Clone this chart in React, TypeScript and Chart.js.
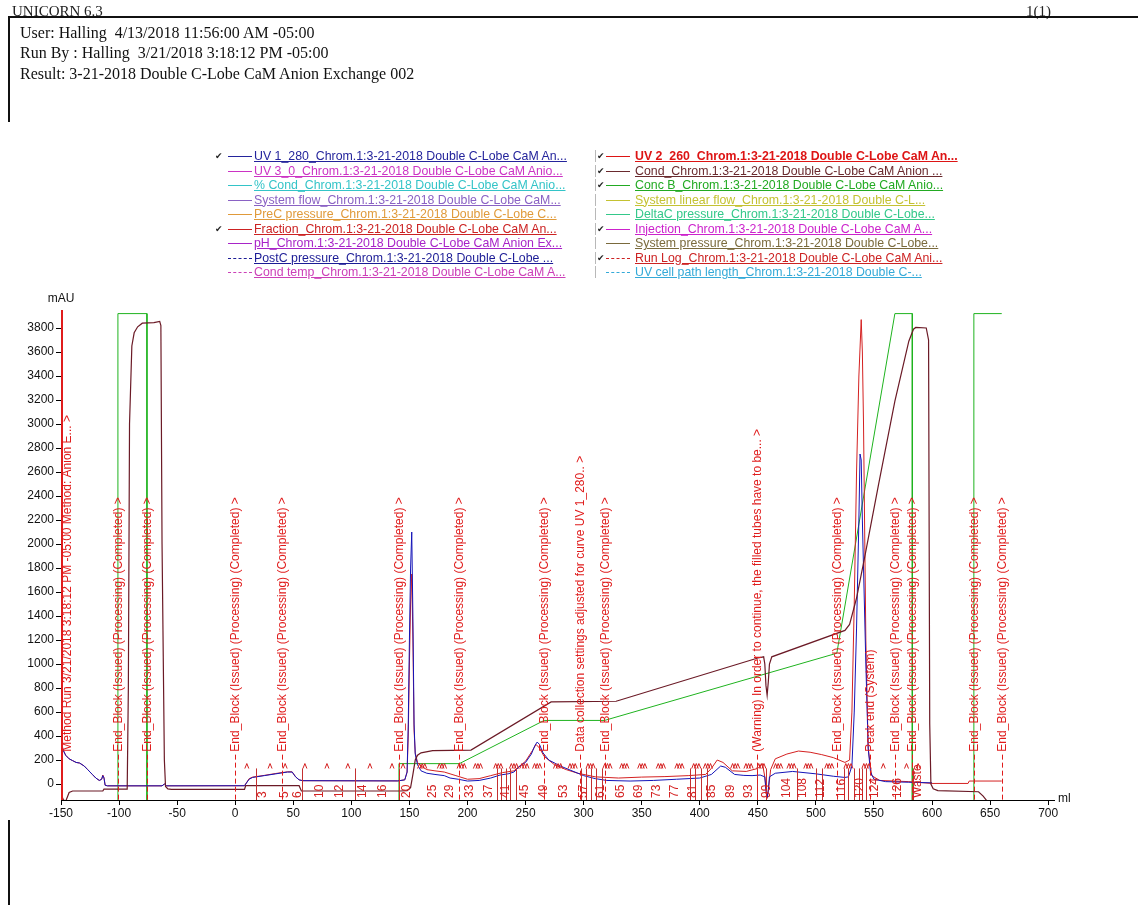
import React, { useEffect, useRef } from 'react';
import { Chart, registerables } from 'chart.js';

Chart.register(...registerables);

type Pt = [number, number];

// ---- Curves: [volume (ml), value (mAU scale)] ----
const uv1Trace: Pt[] = [
  [-150, 420], [-149.5, 250], [-149, 320], [-148, 280], [-146, 240], [-143, 210], [-140, 195], [-137, 180],
  [-134, 175], [-130, 150], [-127, 120], [-123, 80], [-120, 50], [-117, 30], [-115, 40], [-114, 70],
  [-113, 50], [-112, -10], [-110, -15], [-63, -15], [-61, 0], [-59, -15], [8, -14], [12, 40], [15, 55],
  [25, 70], [35, 85], [45, 100], [49, 100], [52, 60], [55, 35], [58, 28], [140, 26], [146, 35], [148, 100],
  [149, 500], [150, 1200], [151, 1800], [152, 2100], [153, 1400], [154, 500], [155, 250], [157, 160],
  [160, 110], [165, 90], [172, 80], [180, 70], [185, 50], [192, 40], [200, 25], [210, 30], [220, 50],
  [228, 75], [235, 85], [240, 100], [245, 150], [250, 180], [255, 250], [258, 320], [260, 350], [262, 330],
  [265, 260], [270, 200], [280, 150], [290, 110], [300, 70], [310, 45], [320, 30], [340, 25], [360, 30],
  [380, 40], [400, 50], [410, 80], [418, 150], [422, 140], [430, 80], [438, 72], [445, 70], [452, 75],
  [456, 60], [457, -60], [458, -110], [459, -50], [460, 60], [465, 90], [480, 105], [500, 85], [515, 65],
  [525, 55], [528, 60], [531, 150], [533, 600], [535, 1300], [537, 2200], [538, 2750], [539, 2700],
  [540, 2200], [541, 1800], [543, 1000], [545, 300], [547, 100], [550, 40], [560, 20], [580, 15], [600, 10]
];

const uv2Trace: Pt[] = [
  [-150, 350], [-149.5, 200], [-149, 300], [-148, 280], [-146, 240], [-143, 210], [-140, 195], [-137, 180],
  [-134, 175], [-130, 150], [-127, 120], [-123, 80], [-120, 50], [-117, 30], [-115, 40], [-114, 75],
  [-113, 55], [-112, -10], [-110, -15], [-63, -15], [-61, 0], [-59, -15], [8, -14], [12, 45], [15, 58],
  [25, 72], [35, 88], [45, 102], [49, 102], [52, 60], [55, 35], [58, 28], [140, 26], [146, 35], [148, 100],
  [149, 400], [150, 1000], [151, 1500], [152, 1750], [153, 1200], [154, 450], [155, 260], [157, 180],
  [160, 150], [165, 120], [172, 110], [180, 100], [190, 70], [200, 40], [210, 45], [220, 70], [230, 95],
  [240, 110], [250, 190], [256, 280], [259, 330], [262, 300], [266, 230], [275, 160], [285, 120], [295, 90],
  [310, 60], [330, 50], [350, 58], [370, 62], [390, 70], [405, 80], [410, 130], [415, 200], [420, 180],
  [428, 110], [440, 105], [450, 130], [454, 170], [456, 60], [458, -120], [459, -60], [461, 120], [465, 210],
  [475, 250], [485, 275], [495, 265], [505, 245], [515, 220], [525, 180], [529, 200], [531, 600], [533, 1500],
  [535, 2600], [537, 3400], [539, 3870], [540, 3600], [541, 3000], [543, 1200], [545, 300], [548, 70],
  [555, 30], [580, 20], [600, 5], [631, 5], [632, 25], [660, 25]
];

const condTrace: Pt[] = [
  [-150, -80], [-148, -130], [-146, -145], [-143, -70], [-140, -58], [-114, -58], [-113, -42], [-93, -42],
  [-92, 800], [-91, 3000], [-89, 3650], [-87, 3760], [-84, 3810], [-80, 3840], [-70, 3845], [-65, 3855],
  [-64, 3820], [-63, 2000], [-61, 200], [-60, -20], [-58, -40], [-55, -45], [8, -45], [9, -14], [55, -14],
  [57, -58], [142, -58], [148, -55], [151, -30], [153, 80], [155, 200], [157, 240], [160, 260], [170, 278],
  [203, 283], [272, 684], [328, 690], [450, 1050], [455, 1060], [456, 1000], [457, 820], [458, 740],
  [459, 850], [460, 1000], [462, 1060], [525, 1280], [529, 1330], [535, 1550], [542, 1890], [554, 2500],
  [568, 3190], [580, 3690], [584, 3790], [586, 3805], [595, 3800], [597, 3700], [598, 500], [599, 0],
  [601, -40], [605, -55], [640, -64], [644, -100], [648, -150]
];

const concBTrace: Pt[] = [
  [-150, -300], [-101, -300], [-101, 3920], [-76, 3920], [-76, -300], [141, -300], [141, 170], [193, 170],
  [266, 530], [318, 530], [518, 1090], [568, 3920], [583, 3920], [583, -300], [636, -300], [636, 3920],
  [660, 3920]
];

// ---- Run log events ----
const END_BLOCK = 'End_Block (Issued) (Processing) (Completed) >';
const runLogMl = [-150, -101, -76, 0, 40.5, 141, 193, 266, 297, 318, 449, 518.5, 547, 568.5, 583, 636, 660];
const runLogText = [
  'Method Run 3/21/2018 3:18:12 PM -05:00 Method: Anion E... >',
  END_BLOCK, END_BLOCK, END_BLOCK, END_BLOCK, END_BLOCK, END_BLOCK, END_BLOCK,
  'Data collection settings adjusted for curve UV 1_280.. >',
  END_BLOCK,
  '(Warning) In order to continue, the filled tubes have to be... >',
  END_BLOCK,
  'Peak end (System)',
  END_BLOCK, END_BLOCK, END_BLOCK, END_BLOCK
];

// ---- Fractions ----
const fractionLineMl = [18, 57.5, 103, 141, 225, 229, 233, 237, 242, 298, 302, 306, 311, 316, 392, 396, 401, 406,
  449, 457, 484, 500, 505, 524, 528, 533, 537, 540, 543, 584];
const fractionLabelMl = [24, 43, 54, 73, 90, 110, 127, 148, 170, 185, 201.5, 218, 233, 249, 266, 282.5, 300, 315,
  331.5, 347, 362.5, 378, 393.5, 410, 427, 442, 458, 474.5, 489, 504.5, 522, 537.5, 551, 570, 588];
const fractionLabels = ['3', '5', '6', '10', '12', '14', '16', '20', '25', '29', '33', '37', '41', '45', '49', '53',
  '57', '61', '65', '69', '73', '77', '81', '85', '89', '93', '99', '104', '108', '112', '116', '120', '124', '126', 'Waste'];

// ---- Caret marks (groups) ----
const caretGroupMl = [10, 30, 43, 60, 79, 97, 116, 135, 144.5, 161, 178, 195, 209, 226.5, 240, 249, 260, 278,
  290.5, 306, 320.5, 335, 350.5, 366.5, 382.5, 397, 407, 430.5, 442, 453, 467.5, 479, 493.5, 511.5, 528, 543.5,
  558, 578, 588];
const caretGroupSize = [1, 1, 1, 1, 1, 1, 1, 1, 1, 3, 3, 3, 3, 3, 3, 3, 3, 3, 3, 3, 3, 3, 3, 3, 3, 3, 3, 3, 3, 3,
  3, 3, 3, 3, 3, 3, 1, 1, 1];

// ---- Axes ----
const X_MIN = -150, X_MAX = 705, X_STEP = 50;
const Y_MIN = -133, Y_MAX = 3950, Y_STEP = 200;
const RUNLOG_TEXT_BASE = 270;
const FRACTION_TOP = 130;
const CARET_LEVEL = 150;

// ---- Legend ----
const legendLeft = [
  { text: 'UV 1_280_Chrom.1:3-21-2018 Double C-Lobe CaM An...', color: '#24249c', checked: true, dashed: false },
  { text: 'UV 3_0_Chrom.1:3-21-2018 Double C-Lobe CaM Anio...', color: '#cc33c4', checked: false, dashed: false },
  { text: '% Cond_Chrom.1:3-21-2018 Double C-Lobe CaM Anio...', color: '#33c4c8', checked: false, dashed: false },
  { text: 'System flow_Chrom.1:3-21-2018 Double C-Lobe CaM...', color: '#8a62c4', checked: false, dashed: false },
  { text: 'PreC pressure_Chrom.1:3-21-2018 Double C-Lobe C...', color: '#e09a3a', checked: false, dashed: false },
  { text: 'Fraction_Chrom.1:3-21-2018 Double C-Lobe CaM An...', color: '#cc2222', checked: true, dashed: false },
  { text: 'pH_Chrom.1:3-21-2018 Double C-Lobe CaM Anion Ex...', color: '#a824c8', checked: false, dashed: false },
  { text: 'PostC pressure_Chrom.1:3-21-2018 Double C-Lobe ...', color: '#1c1c96', checked: false, dashed: true },
  { text: 'Cond temp_Chrom.1:3-21-2018 Double C-Lobe CaM A...', color: '#cc40b8', checked: false, dashed: true },
];
const legendRight = [
  { text: 'UV 2_260_Chrom.1:3-21-2018 Double C-Lobe CaM An...', color: '#dd1414', checked: true, dashed: false, bold: true },
  { text: 'Cond_Chrom.1:3-21-2018 Double C-Lobe CaM Anion ...', color: '#6a2a2e', checked: true, dashed: false },
  { text: 'Conc B_Chrom.1:3-21-2018 Double C-Lobe CaM Anio...', color: '#22aa22', checked: true, dashed: false },
  { text: 'System linear flow_Chrom.1:3-21-2018 Double C-L...', color: '#c4c232', checked: false, dashed: false },
  { text: 'DeltaC pressure_Chrom.1:3-21-2018 Double C-Lobe...', color: '#34c88a', checked: false, dashed: false },
  { text: 'Injection_Chrom.1:3-21-2018 Double C-Lobe CaM A...', color: '#cc22cc', checked: true, dashed: false },
  { text: 'System pressure_Chrom.1:3-21-2018 Double C-Lobe...', color: '#7a6a3c', checked: false, dashed: false },
  { text: 'Run Log_Chrom.1:3-21-2018 Double C-Lobe CaM Ani...', color: '#cc2222', checked: true, dashed: true },
  { text: 'UV cell path length_Chrom.1:3-21-2018 Double C-...', color: '#34aad8', checked: false, dashed: true },
];

const SANS = '"Liberation Sans", Arial, Helvetica, sans-serif';
const SERIF = '"Liberation Serif", "Times New Roman", Times, serif';
const RED = '#e01c1c';

const toXY = (pts: Pt[]) => pts.map(([x, y]) => ({ x, y }));

const marksPlugin = {
  id: 'unicornMarks',
  afterDatasetsDraw(chart: any) {
    const { ctx, chartArea, scales } = chart;
    const xs = scales.x, ys = scales.y;
    ctx.save();
    ctx.beginPath();
    ctx.rect(chartArea.left, chartArea.top - 2, chartArea.right - chartArea.left, chartArea.bottom - chartArea.top + 2);
    ctx.clip();

    // fraction lines
    ctx.strokeStyle = '#c43030';
    ctx.lineWidth = 1;
    const fTop = ys.getPixelForValue(FRACTION_TOP);
    for (const ml of fractionLineMl) {
      const px = Math.round(xs.getPixelForValue(ml)) + 0.5;
      ctx.beginPath();
      ctx.moveTo(px, chartArea.bottom);
      ctx.lineTo(px, fTop);
      ctx.stroke();
    }
    // fraction labels
    ctx.fillStyle = '#d42020';
    ctx.font = `12px ${SANS}`;
    ctx.textAlign = 'left';
    ctx.textBaseline = 'middle';
    fractionLabelMl.forEach((ml, i) => {
      ctx.save();
      ctx.translate(xs.getPixelForValue(ml), chartArea.bottom - 2);
      ctx.rotate(-Math.PI / 2);
      ctx.fillText(fractionLabels[i], 0, 0);
      ctx.restore();
    });
    // carets
    ctx.strokeStyle = '#d42020';
    const cy = ys.getPixelForValue(CARET_LEVEL);
    caretGroupMl.forEach((ml, i) => {
      const n = caretGroupSize[i];
      const cx = xs.getPixelForValue(ml);
      ctx.beginPath();
      for (let k = 0; k < n; k++) {
        const x0 = cx + (k - (n - 1) / 2) * 2.6;
        ctx.moveTo(x0 - 2, cy + 2.5);
        ctx.lineTo(x0, cy - 2.5);
        ctx.lineTo(x0 + 2, cy + 2.5);
      }
      ctx.stroke();
    });
    ctx.restore();

    // run log
    ctx.save();
    const base = ys.getPixelForValue(RUNLOG_TEXT_BASE);
    ctx.font = `12px ${SANS}`;
    ctx.fillStyle = RED;
    ctx.textAlign = 'left';
    ctx.textBaseline = 'middle';
    runLogMl.forEach((ml, i) => {
      const px = Math.round(xs.getPixelForValue(ml)) + 0.5;
      ctx.strokeStyle = RED;
      if (i === 0) {
        ctx.lineWidth = 2;
        ctx.setLineDash([]);
        ctx.beginPath();
        ctx.moveTo(px + 0.5, chartArea.top);
        ctx.lineTo(px + 0.5, chartArea.bottom);
        ctx.stroke();
      } else {
        ctx.lineWidth = 1;
        ctx.setLineDash([5, 3]);
        ctx.beginPath();
        ctx.moveTo(px, base + 3);
        ctx.lineTo(px, chartArea.bottom);
        ctx.stroke();
      }
      const tx = i === 0 ? chartArea.left + 7 : px;
      ctx.save();
      ctx.translate(tx, base);
      ctx.rotate(-Math.PI / 2);
      ctx.fillText(runLogText[i], 0, 0);
      ctx.restore();
    });
    ctx.setLineDash([]);
    // axis captions
    ctx.fillStyle = '#111';
    ctx.textAlign = 'center';
    ctx.fillText('mAU', chartArea.left, chartArea.top - 11);
    ctx.textAlign = 'left';
    ctx.fillText('ml', chartArea.right + 4, chartArea.bottom - 1);
    ctx.restore();
  },
};

function LegendColumn({ rows, left, lineLeft, textLeft, boxes }: any) {
  return (
    <>
      {rows.map((r: any, i: number) => {
        const cyy = 156 + i * 14.5;
        return (
          <React.Fragment key={i}>
            {boxes && (
              <div style={{ position: 'absolute', left: left, top: cyy - 6, width: 1, height: 12, background: '#b8b8b8' }} />
            )}
            {r.checked && (
              <div style={{ position: 'absolute', left: left + 2, top: cyy - 7, fontFamily: '"DejaVu Sans", sans-serif', fontSize: 9, lineHeight: '14px', color: '#222' }}>✔</div>
            )}
            <div style={{ position: 'absolute', left: lineLeft, top: Math.round(cyy), width: 24, height: 0, borderTop: `1px ${r.dashed ? 'dashed' : 'solid'} ${r.color}` }} />
            <div style={{ position: 'absolute', left: textLeft, top: cyy - 7, height: 14, lineHeight: '14px', fontFamily: SANS, fontSize: 12.35, fontWeight: r.bold ? 700 : 400, color: r.color, whiteSpace: 'nowrap', textDecoration: 'underline', textUnderlineOffset: '1px' }}>{r.text}</div>
          </React.Fragment>
        );
      })}
    </>
  );
}

export default function App() {
  const ref = useRef<HTMLCanvasElement | null>(null);
  useEffect(() => {
    if (!ref.current) return;
    const chart = new Chart(ref.current, {
      type: 'line',
      data: {
        datasets: [
          { label: 'Conc B', data: toXY(concBTrace), borderColor: '#1fb31f', borderWidth: 1, order: 4 } as any,
          { label: 'UV 2_260', data: toXY(uv2Trace), borderColor: '#d42020', borderWidth: 1, order: 3 } as any,
          { label: 'UV 1_280', data: toXY(uv1Trace), borderColor: '#1414b8', borderWidth: 1, order: 2 } as any,
          { label: 'Cond', data: toXY(condTrace), borderColor: '#6b1a26', borderWidth: 1.2, order: 1 } as any,
        ],
      },
      options: {
        responsive: false,
        animation: false,
        layout: { padding: { left: 0, right: 84, top: 310, bottom: 0 } },
        plugins: { legend: { display: false }, tooltip: { enabled: false } },
        elements: { point: { radius: 0 }, line: { tension: 0 } },
        scales: {
          x: {
            type: 'linear', min: X_MIN, max: X_MAX,
            ticks: { stepSize: X_STEP, includeBounds: false, color: '#111', font: { size: 12, family: SANS }, padding: 1, maxRotation: 0, autoSkip: false, callback: (v: any) => String(v) },
            grid: { drawOnChartArea: false, drawTicks: true, tickLength: 5, color: '#000' },
            border: { color: '#000', width: 1 },
            afterFit: (s: any) => { s.height = 105; },
          },
          y: {
            type: 'linear', min: Y_MIN, max: Y_MAX,
            ticks: { stepSize: Y_STEP, includeBounds: false, color: '#111', font: { size: 12, family: SANS }, padding: 2, callback: (v: any) => String(v) },
            grid: { drawOnChartArea: false, drawTicks: true, tickLength: 5, color: '#000' },
            border: { color: '#000', width: 1 },
            afterFit: (s: any) => { s.width = 61; },
          },
        },
      } as any,
      plugins: [marksPlugin],
    });
    return () => chart.destroy();
  }, []);

  const serifLine = { position: 'absolute' as const, left: 20, fontFamily: SERIF, fontSize: 16, lineHeight: '20px', color: '#111', whiteSpace: 'pre' as const };

  return (
    <div style={{ position: 'absolute', left: 0, top: 0, width: 1138, height: 905, overflow: 'hidden', background: '#fff' }}>
      <canvas ref={ref} width={1138} height={905} style={{ position: 'absolute', left: 0, top: 0, width: 1138, height: 905 }} />
      <div style={{ position: 'absolute', left: 12, top: 4, fontFamily: SERIF, fontSize: 15, lineHeight: '15px', color: '#222' }}>UNICORN 6.3</div>
      <div style={{ position: 'absolute', left: 1026, top: 4, fontFamily: SERIF, fontSize: 15, lineHeight: '15px', color: '#222' }}>1(1)</div>
      <div style={{ position: 'absolute', left: 8, top: 16, width: 1130, height: 2, background: '#111' }} />
      <div style={{ position: 'absolute', left: 8, top: 16, width: 2, height: 106, background: '#111' }} />
      <div style={{ position: 'absolute', left: 8, top: 820, width: 2, height: 85, background: '#111' }} />
      <div style={{ ...serifLine, top: 23 }}>User: Halling  4/13/2018 11:56:00 AM -05:00</div>
      <div style={{ ...serifLine, top: 43 }}>Run By : Halling  3/21/2018 3:18:12 PM -05:00</div>
      <div style={{ ...serifLine, top: 64 }}>Result: 3-21-2018 Double C-Lobe CaM Anion Exchange 002</div>
      <LegendColumn rows={legendLeft} left={213} lineLeft={228} textLeft={254} boxes={false} />
      <LegendColumn rows={legendRight} left={595} lineLeft={606} textLeft={635} boxes={true} />
    </div>
  );
}
